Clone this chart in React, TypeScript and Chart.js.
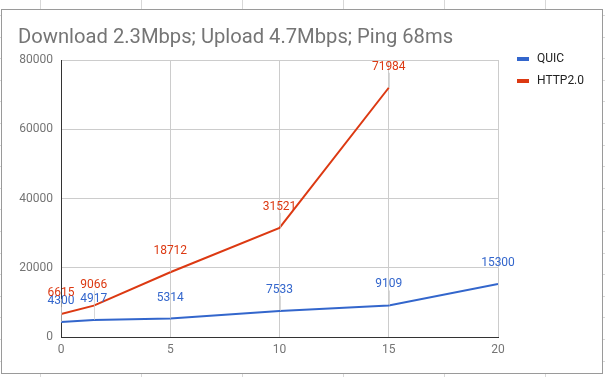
import React, { useEffect, useRef } from "react";
import { Chart, registerables } from "chart.js";

Chart.register(...registerables);

const titleText = "Download 2.3Mbps; Upload 4.7Mbps; Ping 68ms";
const quicX = [0, 1.5, 5, 10, 15, 20];
const quicY = [4300, 4917, 5314, 7533, 9109, 15300];
const httpX = [0, 1.5, 5, 10, 15];
const httpY = [6615, 9066, 18712, 31521, 71984];
const seriesNames = ["QUIC", "HTTP2.0"];
const seriesColors = ["#3366cc", "#dc3912"];
const xTicks = [0, 5, 10, 15, 20];
const yTicks = [0, 20000, 40000, 60000, 80000];

const FONT = "Roboto, Arial, sans-serif";

const overlayPlugin = {
  id: "overlay",
  afterDatasetsDraw(chart: any) {
    const ctx = chart.ctx;
    ctx.save();
    chart.data.datasets.forEach((ds: any, di: number) => {
      const meta = chart.getDatasetMeta(di);
      meta.data.forEach((pt: any, i: number) => {
        const v = ds.data[i].y;
        const x = pt.x;
        const y = pt.y;
        ctx.strokeStyle = "rgba(200,200,200,0.7)";
        ctx.lineWidth = 1;
        ctx.beginPath();
        ctx.moveTo(Math.round(x) + 0.5, y);
        ctx.lineTo(Math.round(x) + 0.5, y - 15);
        ctx.stroke();
        ctx.fillStyle = ds.borderColor;
        ctx.font = `12px ${FONT}`;
        ctx.textAlign = "center";
        ctx.textBaseline = "middle";
        ctx.fillText(String(v), x, y - 21);
      });
    });
    ctx.restore();
  },
  afterDraw(chart: any) {
    const ctx = chart.ctx;
    ctx.save();
    ctx.fillStyle = "#757575";
    ctx.font = `20.2px ${FONT}`;
    ctx.textAlign = "left";
    ctx.textBaseline = "alphabetic";
    ctx.fillText(titleText, 18, 43);
    chart.data.datasets.forEach((ds: any, di: number) => {
      const cy = 59 + di * 22;
      ctx.fillStyle = ds.borderColor;
      ctx.fillRect(517, cy - 2, 12, 4);
      ctx.fillStyle = "#222222";
      ctx.font = `12px ${FONT}`;
      ctx.textAlign = "left";
      ctx.textBaseline = "middle";
      ctx.fillText(ds.label, 537, cy);
    });
    ctx.restore();
  },
};

export default function App() {
  const ref = useRef<HTMLCanvasElement | null>(null);
  useEffect(() => {
    if (!ref.current) return;
    const chart = new Chart(ref.current, {
      type: "line",
      data: {
        datasets: [
          {
            label: seriesNames[0],
            data: quicX.map((x, i) => ({ x, y: quicY[i] })),
            borderColor: seriesColors[0],
            backgroundColor: seriesColors[0],
            borderWidth: 2,
            pointRadius: 0,
            tension: 0,
          },
          {
            label: seriesNames[1],
            data: httpX.map((x, i) => ({ x, y: httpY[i] })),
            borderColor: seriesColors[1],
            backgroundColor: seriesColors[1],
            borderWidth: 2,
            pointRadius: 0,
            tension: 0,
          },
        ],
      },
      options: {
        animation: false,
        responsive: false,
        devicePixelRatio: 1,
        layout: { padding: { top: 60, right: 107, bottom: 0, left: 0 } },
        plugins: {
          legend: { display: false },
          title: { display: false },
          tooltip: { enabled: false },
        },
        scales: {
          x: {
            type: "linear",
            min: 0,
            max: 20,
            afterFit: (s: any) => {
              s.height = 40;
            },
            afterBuildTicks: (s: any) => {
              s.ticks = xTicks.map((v) => ({ value: v }));
            },
            ticks: {
              color: "#757575",
              font: { family: FONT, size: 12 },
              padding: 6,
              maxRotation: 0,
            },
            grid: { color: "#cccccc", drawTicks: false },
            border: { color: "#333333", width: 1 },
          },
          y: {
            min: 0,
            max: 80000,
            afterFit: (s: any) => {
              s.width = 61;
            },
            afterBuildTicks: (s: any) => {
              s.ticks = yTicks.map((v) => ({ value: v }));
            },
            ticks: {
              color: "#757575",
              font: { family: FONT, size: 12 },
              padding: 8,
              callback: (v: any) => String(v),
            },
            grid: { color: "#cccccc", drawTicks: false },
            border: { color: "#333333", width: 1 },
          },
        },
      },
      plugins: [overlayPlugin],
    });
    return () => chart.destroy();
  }, []);

  const bg =
    "repeating-linear-gradient(to right, transparent 0px, transparent 40px, #d8d8d8 40px, #d8d8d8 41px, transparent 41px, transparent 101px)," +
    "repeating-linear-gradient(to bottom, transparent 0px, transparent 15px, #d8d8d8 15px, #d8d8d8 16px, transparent 16px, transparent 21.6px)";

  return (
    <div
      style={{
        position: "fixed",
        left: 0,
        top: 0,
        width: 605,
        height: 377,
        background: "#ffffff",
        overflow: "hidden",
      }}
    >
      <div style={{ position: "absolute", inset: 0, backgroundImage: bg }} />
      <div
        style={{
          position: "absolute",
          left: 1,
          top: 9,
          width: 600,
          height: 363,
          border: "1px solid #9a9a9a",
          background: "#ffffff",
        }}
      />
      <canvas
        ref={ref}
        width={605}
        height={377}
        style={{ position: "absolute", left: 0, top: 0, width: 605, height: 377 }}
      />
    </div>
  );
}
